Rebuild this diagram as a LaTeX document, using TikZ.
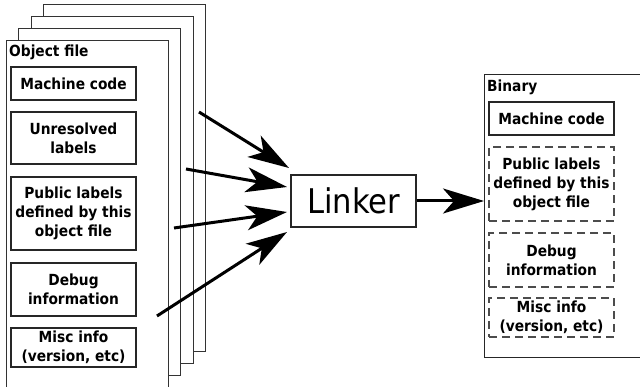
\documentclass[tikz,border=0pt]{standalone}
\usepackage{fontspec}
\setmainfont{DejaVu Sans Condensed}
\usetikzlibrary{arrows.meta}
\begin{document}
\begin{tikzpicture}[x=1pt,y=-1pt,
  page/.style={draw=black!80,line width=1.1pt,fill=white,minimum width=162pt,minimum height=347pt,anchor=north west,inner sep=0pt},
  part/.style={draw=black!85,line width=1.2pt,minimum width=125pt,inner sep=0pt,align=center,font=\fontsize{15.3}{19}\selectfont\bfseries},
  dpart/.style={part,dashed,dash pattern=on 8pt off 5pt,draw=black!70},
  lbl/.style={anchor=base west,inner sep=0pt,font=\fontsize{15.3}{19}\selectfont\bfseries},
  bigarrow/.style={line width=3pt,-{Stealth[length=41pt,width=25pt,inset=11pt]}}
]
\useasboundingbox (0,0) rectangle (640,387);
\clip (0,0) rectangle (640,387);
% stacked object files
\node[page] (p4) at (43,4) {};
\node[page] (p3) at (31,16) {};
\node[page] (p2) at (18,28) {};
\node[page] (p1) at (6,40) {};
\node[lbl] (oft) at (9,57) {Object file};
\node[part,minimum height=33pt] (mc) at (73.5,83.5) {Machine code};
\node[part,minimum height=52pt] (ur) at (73.5,138) {Unresolved\\labels};
\node[part,minimum height=73pt] (pl) at (73.5,213.5) {Public labels\\defined by this\\object file};
\node[part,minimum height=53pt] (db) at (73.5,289.5) {Debug\\information};
\node[part,minimum height=39pt] (mi) at (73.5,347.5) {Misc info\\(version, etc)};
% linker
\node[draw=black!85,line width=1.2pt,minimum width=125pt,minimum height=52pt,inner sep=0pt,font=\fontsize{34}{40}\selectfont] (lk) at (353.5,201) {Linker};
% binary
\node[draw=black!85,line width=1.1pt,minimum width=200pt,minimum height=283pt,anchor=north west,inner sep=0pt] (bin) at (484,74) {};
\node[lbl] (bint) at (487,92) {Binary};
\node[part,minimum height=33pt] (bmc) at (551.5,118.5) {Machine code};
\node[dpart,minimum height=74pt] (bpl) at (551.5,184) {Public labels\\defined by this\\object file};
\node[dpart,minimum height=54pt] (bdb) at (551.5,260) {Debug\\information};
\node[dpart,minimum height=39pt] (bmi) at (551.5,317.5) {Misc info\\(version, etc)};
% arrows
\coordinate (s1) at (199,112);
\coordinate (s2) at (186,169);
\coordinate (s3) at (174,228);
\coordinate (s4) at (157,316);
\coordinate (t1) at (289,168);
\coordinate (t2) at (287,187);
\coordinate (t3) at (287,212);
\coordinate (t4) at (287,232);
\draw[bigarrow] (s1) -- (t1);
\draw[bigarrow] (s2) -- (t2);
\draw[bigarrow] (s3) -- (t3);
\draw[bigarrow] (s4) -- (t4);
\draw[bigarrow] (lk.east) -- (lk.east -| bin.west);
\end{tikzpicture}
\end{document}
